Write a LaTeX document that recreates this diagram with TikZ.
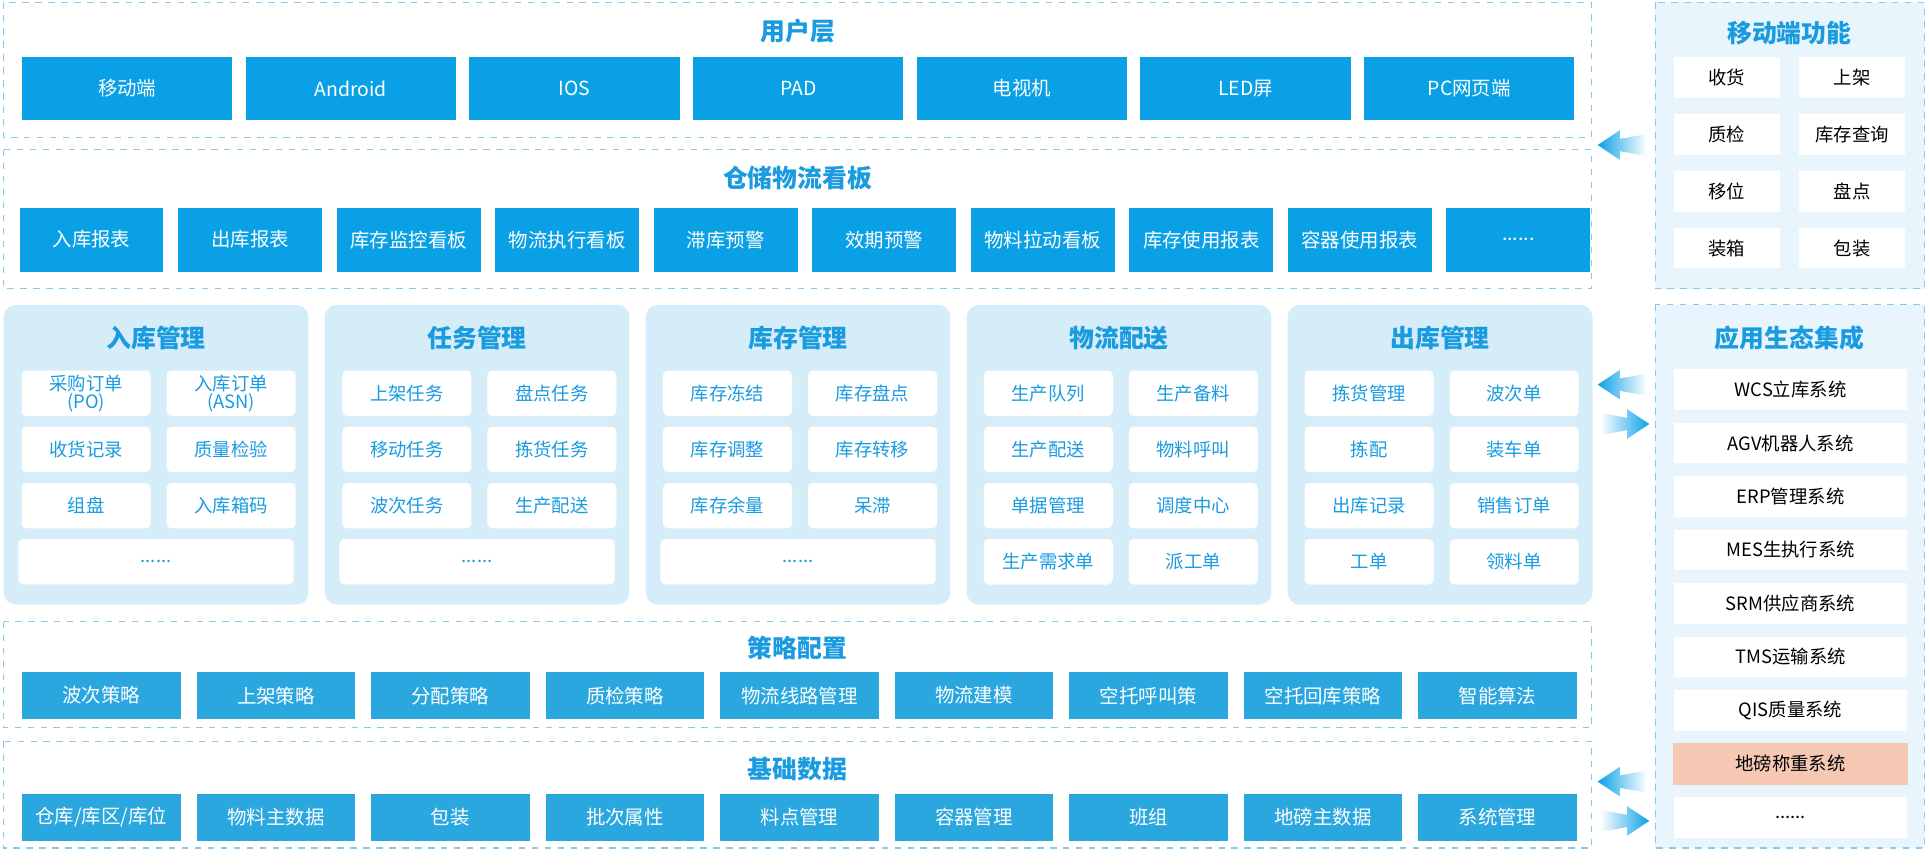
\documentclass[tikz,border=0pt]{standalone}
\usepackage{fontspec}
\setmainfont{Noto Sans CJK SC}
\usetikzlibrary{positioning}
\definecolor{tileblue}{HTML}{0AA0E6}
\definecolor{stratblue}{HTML}{2AA7DF}
\definecolor{titleblue}{HTML}{1A9BE0}
\definecolor{dashblue}{HTML}{86CBEF}
\definecolor{modfill}{HTML}{D5ECF9}
\definecolor{sidefill}{HTML}{E9F5FD}
\definecolor{salmon}{HTML}{F6C8B4}
\newcommand\moredots{......}
\tikzset{
  layerbox/.style={draw=dashblue, dashed, line width=0.5pt},
  layertitle/.style={text=titleblue, font=\fontsize{11.5}{13}\selectfont\bfseries},
  tile/.style={fill=tileblue, text=white, inner sep=0pt, font=\fontsize{9}{10}\selectfont},
  usertile/.style={tile, minimum width=34.2mm, minimum height=10.4mm},
  boardtile/.style={tile, minimum width=23.4mm, minimum height=10.4mm},
  strattile/.style={tile, fill=stratblue, minimum width=25.8mm, minimum height=7.6mm},
  modpanel/.style={fill=modfill, rounded corners=2mm},
  modtitle/.style={text=titleblue, font=\fontsize{11.5}{13}\selectfont\bfseries},
  modtile/.style={fill=white, rounded corners=0.8mm, text=titleblue, inner sep=0pt,
    minimum width=21mm, minimum height=7.4mm, align=center,
    font=\fontsize{8.5}{8.5}\selectfont},
  sidetile/.style={fill=white, inner sep=0pt, minimum height=6.6mm,
    font=\fontsize{8.5}{10}\selectfont}
}
\begin{document}
\begin{tikzpicture}[x=0.2mm, y=-0.2mm]
    \useasboundingbox (0,0) rectangle (1568,693);
    % user layer
    \draw [layerbox] (3,2) rectangle (1295,112);
    \node [layertitle] (user) at (649,25) {用户层};
    \foreach \t [count=\i from 0] in {移动端, Android, IOS, PAD, 电视机, LED屏, PC网页端} {
        \node [usertile] (user-\i) at ({103.5+182*\i}, 72) {\t};
    }
    % board layer
    \draw [layerbox] (3,122) rectangle (1295,235);
    \node [layertitle] (board) at (649,145) {仓储物流看板};
    \foreach \t [count=\i from 0] in {入库报表, 出库报表, 库存监控看板, 物流执行看板, 滞库预警, 效期预警, 物料拉动看板, 库存使用报表, 容器使用报表, \moredots} {
        \node [boardtile] (board-\i) at ({74.5+129*\i}, 195) {\t};
    }
    % modules
    \foreach \t [count=\j from 0] in {入库管理, 任务管理, 库存管理, 物流配送, 出库管理} {
        \fill [modpanel] ({3+261.2*\j}, 248) rectangle ({251+261.2*\j}, 492);
        \node [modtitle] (mod-\j) at ({127+261.2*\j}, 275) {\t};
    }
    \foreach \c/\r/\t in {0/0/{采购订单\\(PO)}, 1/0/{入库订单\\(ASN)}, 0/1/收货记录, 1/1/质量检验, 0/2/组盘, 1/2/入库箱码} {
        \node [modtile] (m0-\r-\c) at ({70+118*\c}, {320+45.7*\r}) {\t};
    }
    \foreach \c/\r/\t in {0/0/上架任务, 1/0/盘点任务, 0/1/移动任务, 1/1/拣货任务, 0/2/波次任务, 1/2/生产配送} {
        \node [modtile] (m1-\r-\c) at ({331+118*\c}, {320+45.7*\r}) {\t};
    }
    \foreach \c/\r/\t in {0/0/库存冻结, 1/0/库存盘点, 0/1/库存调整, 1/1/库存转移, 0/2/库存余量, 1/2/呆滞/报废处理} {
        \node [modtile] (m2-\r-\c) at ({592+118*\c}, {320+45.7*\r}) {\t};
    }
    \foreach \c/\r/\t in {0/0/生产队列, 1/0/生产备料, 0/1/生产配送, 1/1/物料呼叫, 0/2/单据管理, 1/2/调度中心, 0/3/生产需求单, 1/3/派工单} {
        \node [modtile] (m3-\r-\c) at ({853+118*\c}, {320+45.7*\r}) {\t};
    }
    \foreach \c/\r/\t in {0/0/拣货管理, 1/0/波次单, 0/1/拣配/发运, 1/1/装车单, 0/2/出库记录, 1/2/销售订单, 0/3/工单, 1/3/领料单} {
        \node [modtile] (m4-\r-\c) at ({1114+118*\c}, {320+45.7*\r}) {\t};
    }
    \foreach \j in {0, 1, 2} {
        \node [modtile, minimum width=44.8mm] (mdots-\j) at ({127+261.2*\j}, 457) {\moredots};
    }
    % strategy layer
    \draw [layerbox] (3,506) rectangle (1295,592);
    \node [layertitle] (strat) at (649,527) {策略配置};
    \foreach \t [count=\i from 0] in {波次策略, 上架策略, 分配策略, 质检策略, 物流线路管理, 物流建模, 空托呼叫策, 空托回库策略, 智能算法} {
        \node [strattile] (strat-\i) at ({82.5+142*\i}, 566) {\t};
    }
    % base data layer
    \draw [layerbox] (3,603) rectangle (1295,690);
    \node [layertitle] (base) at (649,626) {基础数据};
    \foreach \t [count=\i from 0] in {仓库/库区/库位, 物料主数据, 包装, 批次属性, 料点管理, 容器管理, 班组, 地磅主数据, 系统管理} {
        \node [strattile] (base-\i) at ({82.5+142*\i}, 665) {\t};
    }
    % mobile side panel
    \draw [layerbox, fill=sidefill] (1347,2) rectangle (1566,235);
    \node [layertitle] (mobile) at (1456,27) {移动端功能};
    \foreach \c/\r/\t in {0/0/收货, 1/0/上架, 0/1/质检, 1/1/库存查询, 0/2/移位, 1/2/盘点, 0/3/装箱, 1/3/包装} {
        \node [sidetile, minimum width=17.2mm] (mob-\r-\c) at ({1405+102*\c}, {63+46.3*\r}) {\t};
    }
    % ecosystem side panel
    \draw [layerbox, fill=sidefill] (1347,248) rectangle (1566,690);
    \node [layertitle] (eco) at (1456,275) {应用生态集成};
    \foreach \t [count=\i from 0] in {WCS立库系统, AGV机器人系统, ERP管理系统, MES生执行系统, SRM供应商系统, TMS运输系统, QIS质量系统, 地磅称重系统, \moredots} {
        \node [sidetile, minimum width=38mm] (eco-\i) at (1457, {317+43.5*\i}) {\t};
    }
    \fill [salmon] (eco-7.south west) rectangle (eco-7.north east);
    \node [sidetile, minimum width=38mm, fill=none] at (eco-7) {地磅称重系统};
    % arrows
    \foreach \y in {118, 313, 636} {
        \shade [left color=tileblue, right color=white]
            (1300,\y) -- (1318,{\y-12}) -- (1318,{\y-5}) -- (1340,{\y-9})
            -- (1340,{\y+9}) -- (1318,{\y+5}) -- (1318,{\y+12}) -- cycle;
    }
    \foreach \y in {345, 668} {
        \shade [left color=white, right color=tileblue]
            (1342,\y) -- (1324,{\y-12}) -- (1324,{\y-5}) -- (1302,{\y-9})
            -- (1302,{\y+9}) -- (1324,{\y+5}) -- (1324,{\y+12}) -- cycle;
    }
\end{tikzpicture}
\end{document}
